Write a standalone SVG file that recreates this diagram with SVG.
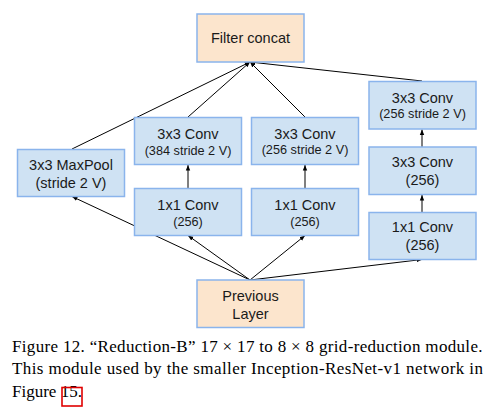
<svg xmlns="http://www.w3.org/2000/svg" width="499" height="410" viewBox="0 0 499 410">
<style>
.b{fill:#cfe2f3;stroke:#8ab4ec;stroke-width:1.5}
.o{fill:#fce5cd;stroke:#8ab4ec;stroke-width:1.5}
.t{font-family:"Liberation Sans",Arial,sans-serif;font-size:14.5px;fill:#1a1a1a;text-anchor:middle}
.s{font-size:12.7px}
.c{stroke:#000;stroke-width:1;fill:none;marker-end:url(#ah)}
.cap{font-family:"Liberation Serif","Times New Roman",serif;font-size:17px;fill:#000}
</style>
<defs>
<marker id="ah" viewBox="0 0 10 10" refX="10" refY="5" markerWidth="5.5" markerHeight="5.5" orient="auto" markerUnits="userSpaceOnUse">
<path d="M0,1 L10,5 L0,9 z" fill="#000"/>
</marker>
</defs>
<rect width="499" height="410" fill="#fff"/>
<g id="connectors">
<line class="c" x1="72" y1="149" x2="250" y2="62"/>
<line class="c" x1="188" y1="117" x2="250" y2="62"/>
<line class="c" x1="305" y1="117" x2="250" y2="62"/>
<line class="c" x1="422" y1="81" x2="250" y2="62"/>
<line class="c" x1="188" y1="188" x2="188" y2="165"/>
<line class="c" x1="305" y1="188" x2="305" y2="165"/>
<line class="c" x1="422" y1="147" x2="422" y2="129.5"/>
<line class="c" x1="422" y1="212" x2="422" y2="195"/>
<line class="c" x1="250" y1="280" x2="72" y2="196.5"/>
<line class="c" x1="250" y1="280" x2="188" y2="235.5"/>
<line class="c" x1="250" y1="280" x2="305" y2="235.5"/>
<line class="c" x1="250" y1="280" x2="422" y2="259.5"/>
</g>
<g id="filter-concat">
<rect class="o" x="197" y="14" width="107" height="48"/>
<text class="t" x="250.5" y="43">Filter concat</text>
</g>
<g id="maxpool">
<rect class="b" x="17.5" y="149.5" width="107" height="47"/>
<text class="t" x="71" y="170">3x3 MaxPool</text>
<text class="t" x="71" y="187.5">(stride 2 V)</text>
</g>
<g id="conv3-384">
<rect class="b" x="134.5" y="117.5" width="107" height="47"/>
<text class="t" x="188" y="139">3x3 Conv</text>
<text class="t s" x="188" y="155">(384 stride 2 V)</text>
</g>
<g id="conv1-a">
<rect class="b" x="134.5" y="188.5" width="107" height="47"/>
<text class="t" x="188" y="210">1x1 Conv</text>
<text class="t s" x="188" y="226">(256)</text>
</g>
<g id="conv3-256-mid">
<rect class="b" x="251.5" y="117.5" width="107" height="47"/>
<text class="t" x="305" y="139">3x3 Conv</text>
<text class="t s" x="305" y="154">(256 stride 2 V)</text>
</g>
<g id="conv1-b">
<rect class="b" x="251.5" y="188.5" width="107" height="47"/>
<text class="t" x="305" y="210">1x1 Conv</text>
<text class="t s" x="305" y="226">(256)</text>
</g>
<g id="conv3-256-top">
<rect class="b" x="369" y="81.5" width="107" height="47.5"/>
<text class="t" x="422.5" y="103">3x3 Conv</text>
<text class="t s" x="422.5" y="118">(256 stride 2 V)</text>
</g>
<g id="conv3-256-right">
<rect class="b" x="369" y="147" width="107" height="47.5"/>
<text class="t" x="422.5" y="167">3x3 Conv</text>
<text class="t" x="422.5" y="184.5">(256)</text>
</g>
<g id="conv1-c">
<rect class="b" x="369" y="212.5" width="107" height="47"/>
<text class="t" x="422.5" y="232">1x1 Conv</text>
<text class="t" x="422.5" y="249.5">(256)</text>
</g>
<g id="previous-layer">
<rect class="o" x="197" y="280" width="107" height="47.5"/>
<text class="t" x="250.5" y="300.5">Previous</text>
<text class="t" x="250.5" y="318.5">Layer</text>
</g>
<g id="caption">
<text class="cap" x="12" y="352.3" textLength="470.5" lengthAdjust="spacing">Figure 12. “Reduction-B” 17 × 17 to 8 × 8 grid-reduction module.</text>
<text class="cap" x="12" y="374.3" textLength="471" lengthAdjust="spacing">This module used by the smaller Inception-ResNet-v1 network in</text>
<text class="cap" x="12" y="396.7">Figure 15.</text>
<rect x="62" y="387.5" width="20" height="18.5" fill="none" stroke="#e00000" stroke-width="1.6"/>
</g>
</svg>
